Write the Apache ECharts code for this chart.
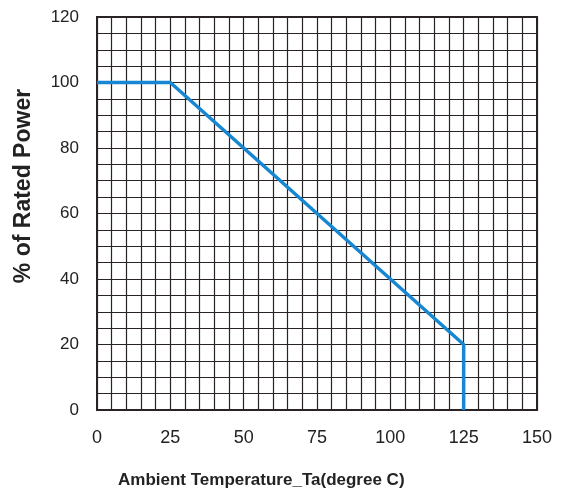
<!DOCTYPE html>
<html>
<head>
<meta charset="utf-8">
<script src="https://cdn.jsdelivr.net/npm/echarts@6/dist/echarts.min.js"></script>
<style>
  html, body { margin: 0; padding: 0; background: #fff; }
  #chart { width: 561px; height: 490px; }
</style>
</head>
<body>
<div id="chart"></div>
<script>
// derating curve points (temperature, % power)
var tempPoints = [0, 25, 125, 125];
var powerPoints = [100, 100, 20, 0];
var xTicks = [0, 25, 50, 75, 100, 125, 150];
var yTicks = [0, 20, 40, 60, 80, 100, 120];

var lineData = [];
for (var i = 0; i < tempPoints.length; i++) {
  lineData.push([tempPoints[i], powerPoints[i]]);
}

var gridColor = '#2a2323';

var option = {
  animation: false,
  grid: {
    left: 97, right: 24, top: 17, bottom: 80,
    show: true, borderColor: gridColor, borderWidth: 2
  },
  xAxis: {
    type: 'value',
    min: xTicks[0], max: xTicks[xTicks.length - 1], interval: 25,
    axisLine: { show: true, lineStyle: { color: gridColor, width: 2 } },
    axisTick: { show: false },
    axisLabel: { margin: 19, color: '#222', fontSize: 18, fontFamily: 'Liberation Sans' },
    splitLine: { show: true, lineStyle: { color: gridColor, width: 1.2 } },
    minorTick: { show: false, splitNumber: 5 },
    minorSplitLine: { show: true, lineStyle: { color: gridColor, width: 1.2 } }
  },
  yAxis: {
    type: 'value',
    min: yTicks[0], max: yTicks[yTicks.length - 1], interval: 20,
    axisLine: { show: true, lineStyle: { color: gridColor, width: 2 } },
    axisTick: { show: false },
    axisLabel: { margin: 18, color: '#222', fontSize: 17, fontFamily: 'Liberation Sans' },
    splitLine: { show: true, lineStyle: { color: gridColor, width: 1.2 } },
    minorTick: { show: false, splitNumber: 4 },
    minorSplitLine: { show: true, lineStyle: { color: gridColor, width: 1.2 } }
  },
  graphic: [
    {
      type: 'text', x: 118, y: 480,
      style: {
        text: 'Ambient Temperature_Ta(degree C)',
        font: 'bold 17px "Liberation Sans"', fill: '#222',
        align: 'left', verticalAlign: 'middle'
      }
    },
    {
      type: 'text', x: 24, y: 186, rotation: Math.PI / 2,
      style: {
        text: '% of Rated Power',
        font: 'bold 23px "Liberation Sans"', fill: '#222',
        align: 'center', verticalAlign: 'middle'
      }
    }
  ],
  series: [{
    type: 'line',
    data: lineData,
    symbol: 'none',
    lineStyle: { color: '#1787d3', width: 3.5 },
    z: 5
  }]
};

var myChart = echarts.init(document.getElementById('chart'));
myChart.setOption(option);
</script>
</body>
</html>
